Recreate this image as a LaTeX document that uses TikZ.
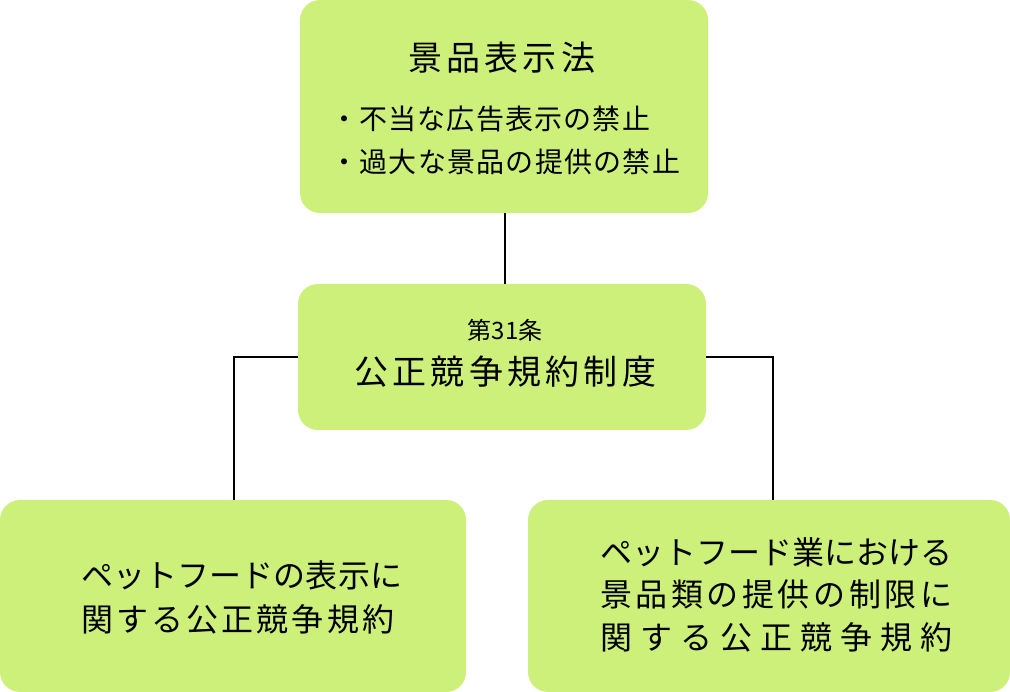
\documentclass[tikz,border=0pt]{standalone}
\usepackage{fontspec}
\setmainfont{Noto Sans CJK JP}
\usetikzlibrary{calc}
\definecolor{boxgreen}{RGB}{205,240,123}
% spread the characters of one line over a given width
\ExplSyntaxOn
\NewDocumentCommand\spreadline{mm}{\makebox[#1][s]{\tl_map_inline:nn{#2}{##1\hfil}\unskip}}
\ExplSyntaxOff
\tikzset{
  greenbox/.style={fill=boxgreen, rounded corners=20pt, inner sep=0pt},
  boxtext/.style={anchor=west, inner sep=0pt, font=\fontsize{32}{32}\selectfont},
  bigtext/.style={anchor=west, inner sep=0pt, font=\fontsize{34}{34}\selectfont},
  smalltext/.style={anchor=west, inner sep=0pt, font=\fontsize{28}{28}\selectfont},
  link/.style={line width=2pt, black}
}

\begin{document}
\begin{tikzpicture}[x=1pt,y=-1pt]
\useasboundingbox (0,0) rectangle (1010,692);

% Boites
\node[greenbox, minimum width=408pt, minimum height=213pt] (keihin) at (504,106.5) {};
\node[greenbox, minimum width=408pt, minimum height=146pt] (seido) at (502,357) {};
\node[greenbox, minimum width=466pt, minimum height=192pt] (hyoji) at (233,596) {};
\node[greenbox, minimum width=482pt, minimum height=192pt] (keihinrui) at (769,596) {};

% Liaisons
\draw[link] ([xshift=1pt]keihin.south) -- ([xshift=1pt]keihin.south |- seido.north);
\draw[link] (seido.west) -| ([xshift=1pt]hyoji.north);
\draw[link] (seido.east) -| ([xshift=4pt]keihinrui.north);

% Loi
\node[bigtext] (law) at (408,58) {\spreadline{187pt}{景品表示法}};
\node[smalltext] (ban1) at (330,119) {\spreadline{320pt}{・不当な広告表示の禁止}};
\node[smalltext] (ban2) at (330,162) {\spreadline{350pt}{・過大な景品の提供の禁止}};

% Article 31
\node[inner sep=0pt, font=\fontsize{24}{24}\selectfont] (art) at (505,330) {第31条};
\node[bigtext] (sys) at (354,372) {\spreadline{302pt}{公正競争規約制度}};

% Regles
\node[boxtext] (h1) at (81,575) {\spreadline{321pt}{ペットフードの表示に}};
\node[boxtext] (h2) at (81,619) {\spreadline{313pt}{関する公正競争規約}};
\node[boxtext] (k1) at (600,552) {\spreadline{352pt}{ペットフード業における}};
\node[boxtext] (k2) at (600,594) {\spreadline{352pt}{景品類の提供の制限に}};
\node[boxtext] (k3) at (600,637) {\spreadline{352pt}{関する公正競争規約}};
\end{tikzpicture}
\end{document}
